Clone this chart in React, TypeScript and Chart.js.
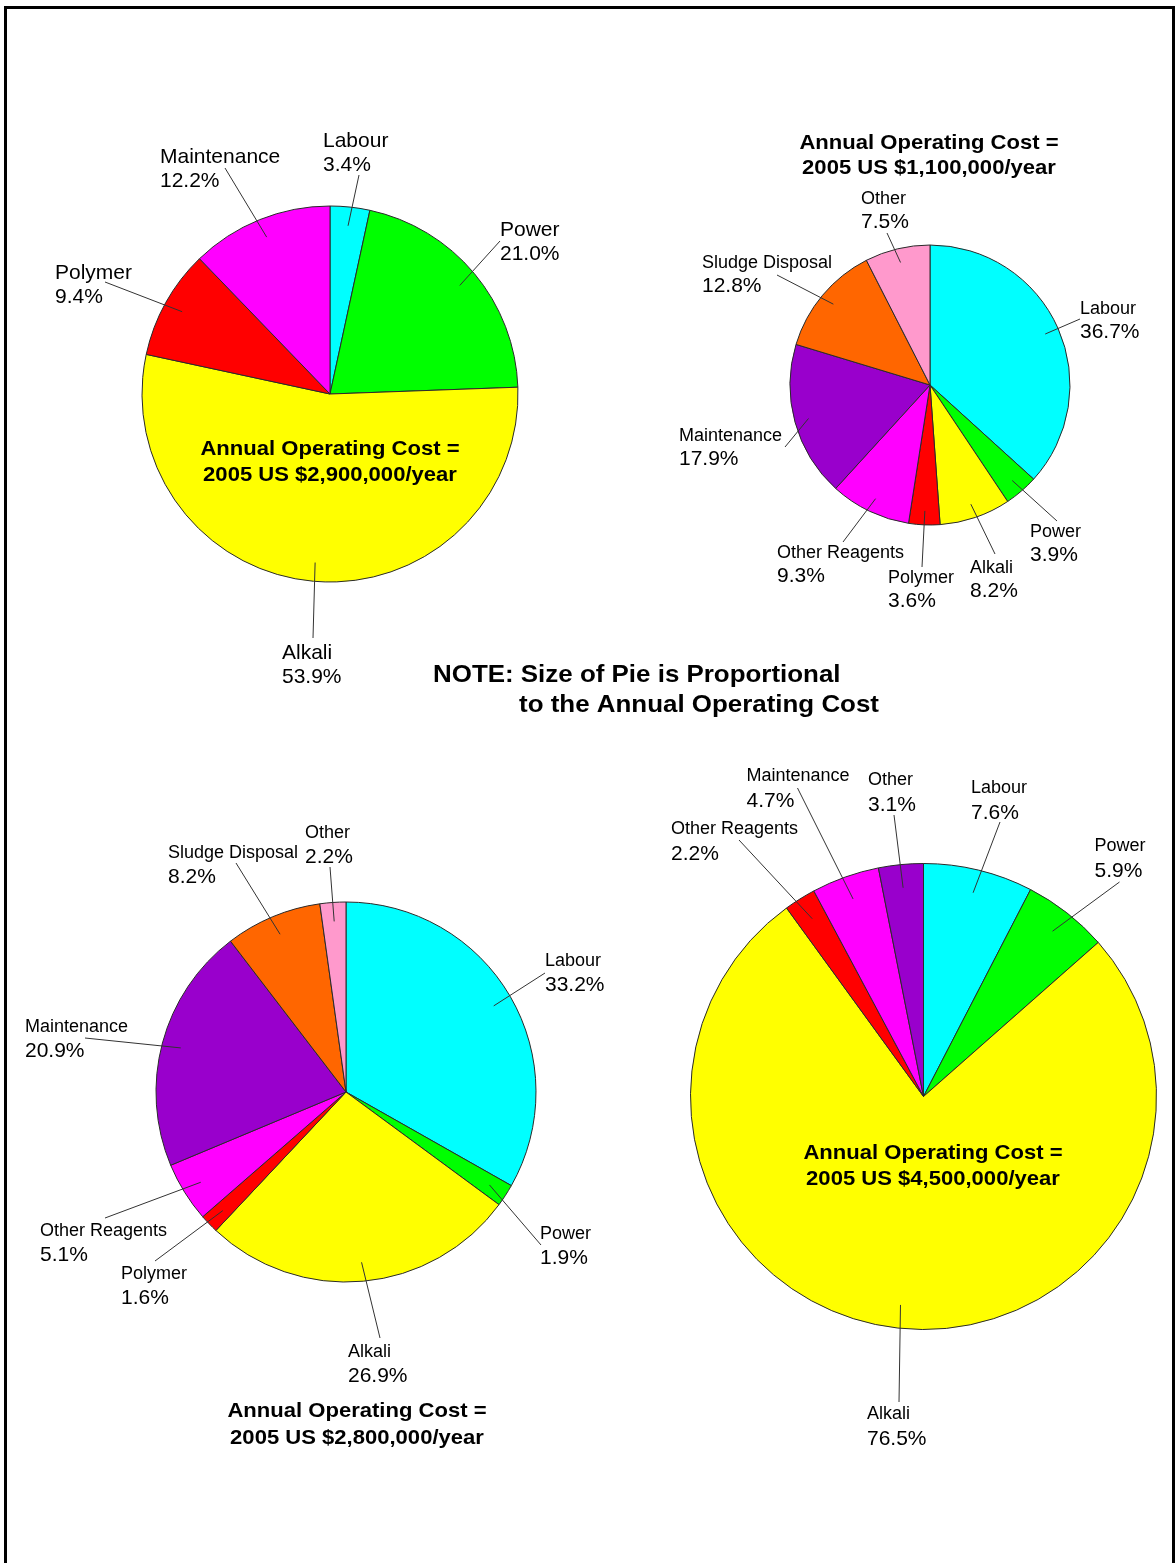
import React, { useEffect, useRef } from "react";
import { Chart, registerables } from "chart.js";

Chart.register(...registerables);

const PAGE_W = 1175;
const PAGE_H = 1563;

// ---------- DATA ----------
// Pie 1 (top-left)
const pie1Categories = ["Labour", "Power", "Alkali", "Polymer", "Maintenance"];
const pie1Values = [3.4, 21.0, 53.9, 9.4, 12.2];
const pie1Title = ["Annual Operating Cost =", "2005 US $2,900,000/year"];

// Pie 2 (top-right)
const pie2Categories = ["Labour", "Power", "Alkali", "Polymer", "Other Reagents", "Maintenance", "Sludge Disposal", "Other"];
const pie2Values = [36.7, 3.9, 8.2, 3.6, 9.3, 17.9, 12.8, 7.5];
const pie2Title = ["Annual Operating Cost =", "2005 US $1,100,000/year"];

// Pie 3 (bottom-left)
const pie3Categories = ["Labour", "Power", "Alkali", "Polymer", "Other Reagents", "Maintenance", "Sludge Disposal", "Other"];
const pie3Values = [33.2, 1.9, 26.9, 1.6, 5.1, 20.9, 8.2, 2.2];
const pie3Title = ["Annual Operating Cost =", "2005 US $2,800,000/year"];

// Pie 4 (bottom-right)
const pie4Categories = ["Labour", "Power", "Alkali", "Other Reagents", "Maintenance", "Other"];
const pie4Values = [7.6, 5.9, 76.5, 2.2, 4.7, 3.1];
const pie4Title = ["Annual Operating Cost =", "2005 US $4,500,000/year"];

const noteLines = ["NOTE: Size of Pie is Proportional", "to the Annual Operating Cost"];

// ---------- STYLES / LAYOUT ----------
const CYAN = "#00FFFF";
const GREEN = "#00FF00";
const YELLOW = "#FFFF00";
const RED = "#FF0000";
const MAGENTA = "#FF00FF";
const PURPLE = "#9900CC";
const ORANGE = "#FF6600";
const PINK = "#FF99CC";

const pie1Colors = [CYAN, GREEN, YELLOW, RED, MAGENTA];
const pie2Colors = [CYAN, GREEN, YELLOW, RED, MAGENTA, PURPLE, ORANGE, PINK];
const pie3Colors = [CYAN, GREEN, YELLOW, RED, MAGENTA, PURPLE, ORANGE, PINK];
const pie4Colors = [CYAN, GREEN, YELLOW, RED, MAGENTA, PURPLE];

// label layout: [textLeftDx, nameCenterDy, leaderEndDx, leaderEndDy] relative to pie centre
const pie1Labels = [
  [-7, -255, 29, -219],
  [170, -166, 170, -153],
  [-48, 257, -17, 244],
  [-275, -123, -225, -112],
  [-170, -239, -105, -226],
];
const pie2Labels = [
  [150, -77, 150, -66],
  [100, 146, 127, 136],
  [40, 182, 65, 169],
  [-42, 192, -8, 182],
  [-153, 167, -87, 157],
  [-251, 50, -145, 62],
  [-228, -123, -153, -110],
  [-69, -187, -43, -152],
];
const pie3Labels = [
  [199, -132, 199, -119],
  [194, 141, 195, 153],
  [2, 259, 34, 246],
  [-225, 181, -191, 169],
  [-306, 138, -241, 126],
  [-321, -66, -261, -54],
  [-178, -240, -110, -229],
  [-41, -260, -16, -225],
];
const pie4Labels = [
  [47.5, -309.5, 76.5, -274.5],
  [171, -251.5, 196, -214.5],
  [-56.5, 316.5, -24.5, 305.5],
  [-252.5, -268.5, -184.5, -256.5],
  [-177, -321.5, -126, -308.5],
  [-55.5, -317.5, -29.5, -281.5],
];

const FONT = '"Liberation Sans", Arial, Helvetica, sans-serif';

type PieSpec = {
  categories: string[];
  values: number[];
  colors: string[];
  labels: number[][];
  cx: number;
  cy: number;
  r: number;
  nameSize: number;
  pctSize: number;
  lineGap: number;
  title: string[];
  titleX: number;
  titleY: number[];
  note?: { lines: string[]; x: number[]; y: number[] };
};

const specs: PieSpec[] = [
  {
    categories: pie1Categories, values: pie1Values, colors: pie1Colors, labels: pie1Labels,
    cx: 330, cy: 394, r: 188, nameSize: 21, pctSize: 21, lineGap: 24,
    title: pie1Title, titleX: 330, titleY: [447, 473],
  },
  {
    categories: pie2Categories, values: pie2Values, colors: pie2Colors, labels: pie2Labels,
    cx: 930, cy: 385, r: 140, nameSize: 18, pctSize: 21, lineGap: 22.5,
    title: pie2Title, titleX: 929, titleY: [141.5, 166.5],
    note: { lines: noteLines, x: [433, 519], y: [673, 703] },
  },
  {
    categories: pie3Categories, values: pie3Values, colors: pie3Colors, labels: pie3Labels,
    cx: 346, cy: 1092, r: 190, nameSize: 18, pctSize: 21, lineGap: 23,
    title: pie3Title, titleX: 357, titleY: [1409, 1436],
  },
  {
    categories: pie4Categories, values: pie4Values, colors: pie4Colors, labels: pie4Labels,
    cx: 923.5, cy: 1096.5, r: 233, nameSize: 18, pctSize: 21, lineGap: 24,
    title: pie4Title, titleX: 933, titleY: [1151, 1177],
  },
];

function drawStretched(
  ctx: CanvasRenderingContext2D,
  text: string,
  x: number,
  centerY: number,
  size: number,
  bold: boolean,
  align: CanvasTextAlign,
  sx: number
) {
  ctx.save();
  ctx.font = `${bold ? "bold " : ""}${size}px ${FONT}`;
  ctx.textAlign = align;
  ctx.textBaseline = "alphabetic";
  ctx.fillStyle = "#000";
  ctx.translate(x, centerY + size * 0.358);
  ctx.scale(sx, 1);
  ctx.fillText(text, 0, 0);
  ctx.restore();
}

const pieLabelPlugin = {
  id: "pieLabels",
  afterDatasetsDraw(chart: any, _args: any, opts: any) {
    const spec: PieSpec = opts.spec;
    if (!spec) return;
    const ctx: CanvasRenderingContext2D = chart.ctx;
    const meta = chart.getDatasetMeta(0);
    meta.data.forEach((arc: any, i: number) => {
      const p = arc.getProps(["x", "y", "startAngle", "endAngle", "outerRadius"], true);
      const mid = (p.startAngle + p.endAngle) / 2;
      const ax = p.x + Math.cos(mid) * p.outerRadius * 0.9;
      const ay = p.y + Math.sin(mid) * p.outerRadius * 0.9;
      const L = spec.labels[i];
      ctx.save();
      ctx.strokeStyle = "#333";
      ctx.lineWidth = 1;
      ctx.beginPath();
      ctx.moveTo(ax, ay);
      ctx.lineTo(p.x + L[2], p.y + L[3]);
      ctx.stroke();
      ctx.restore();
      const tx = p.x + L[0];
      const ty = p.y + L[1];
      drawStretched(ctx, spec.categories[i], tx, ty, spec.nameSize, false, "left", 1);
      const pct = spec.values[i].toFixed(1) + "%";
      drawStretched(ctx, pct, tx, ty + spec.lineGap, spec.pctSize, false, "left", 1);
    });
    spec.title.forEach((line, k) => {
      drawStretched(ctx, line, spec.titleX, spec.titleY[k], 21, true, "center", 1.05);
    });
    if (spec.note) {
      spec.note.lines.forEach((line, k) => {
        drawStretched(ctx, line, spec.note!.x[k], spec.note!.y[k], 24, true, "left", 1.08);
      });
    }
  },
};

function PieCanvas({ spec }: { spec: PieSpec }) {
  const ref = useRef<HTMLCanvasElement | null>(null);
  useEffect(() => {
    if (!ref.current) return;
    const half = 10;
    const chart = new Chart(ref.current, {
      type: "pie",
      data: {
        labels: spec.categories,
        datasets: [
          {
            data: spec.values,
            backgroundColor: spec.colors,
            borderColor: "#2a2a2a",
            borderWidth: 1,
          },
        ],
      },
      options: {
        responsive: false,
        animation: false,
        events: [],
        radius: spec.r,
        layout: {
          padding: {
            left: spec.cx - half,
            right: PAGE_W - spec.cx - half,
            top: spec.cy - half,
            bottom: PAGE_H - spec.cy - half,
          },
        },
        plugins: {
          legend: { display: false },
          tooltip: { enabled: false },
          pieLabels: { spec },
        },
      } as any,
      plugins: [pieLabelPlugin as any],
    });
    return () => chart.destroy();
  }, [spec]);
  return (
    <canvas
      ref={ref}
      width={PAGE_W}
      height={PAGE_H}
      style={{ position: "absolute", left: 0, top: 0, width: PAGE_W, height: PAGE_H }}
    />
  );
}

export default function App() {
  return (
    <div
      style={{
        position: "absolute",
        left: 0,
        top: 0,
        width: PAGE_W,
        height: PAGE_H,
        overflow: "hidden",
        background: "#fff",
      }}
    >
      <div
        style={{
          position: "absolute",
          left: 4,
          top: 6,
          width: PAGE_W - 4,
          height: PAGE_H + 20,
          boxSizing: "border-box",
          borderLeft: "3px solid #000",
          borderTop: "3px solid #000",
          borderRight: "3px solid #000",
        }}
      />
      {specs.map((s, i) => (
        <PieCanvas key={i} spec={s} />
      ))}
    </div>
  );
}
